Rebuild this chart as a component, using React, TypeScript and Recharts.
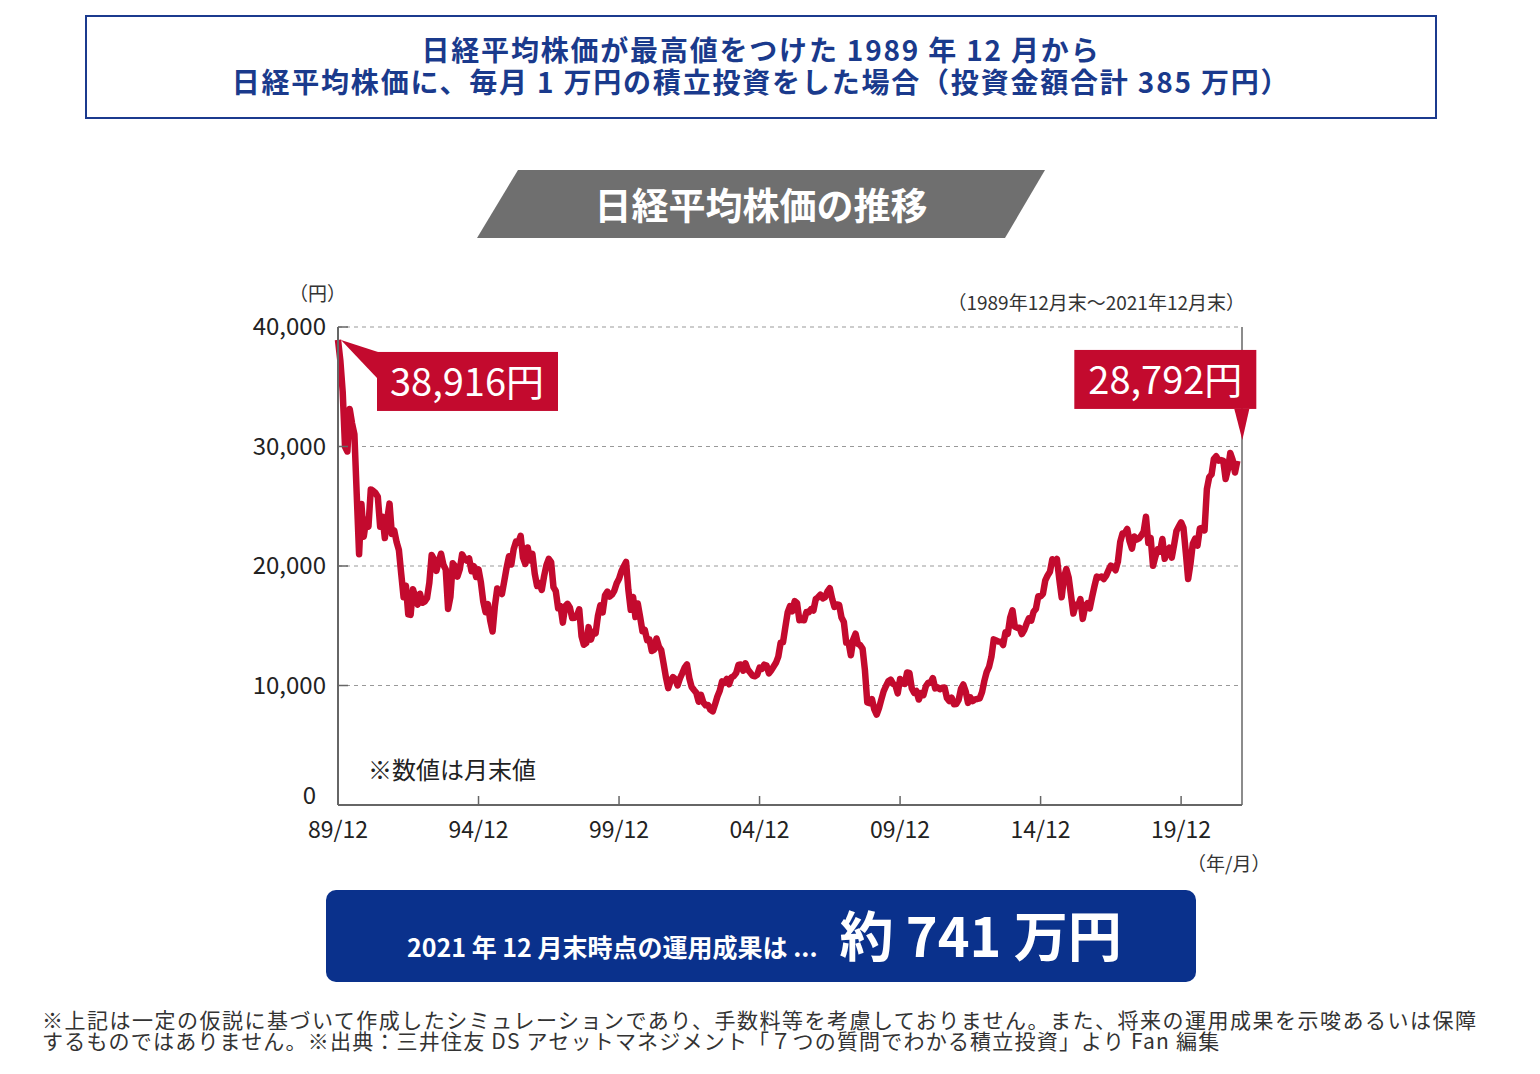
import React from "react";
import {
  LineChart,
  Line,
  XAxis,
  YAxis,
  CartesianGrid,
  ReferenceLine,
  ReferenceDot,
} from "recharts";

// Nikkei 225 month-end closes, 1989/12 .. 2021/12
const nikkei1989to1994 = [
  38916,
  37189, 34592, 29980, 29584, 33131, 31940, 31036, 25978, 20984, 25194, 22455, 23849,
  23293, 26409, 26292, 26111, 25790, 23291, 24121, 22336, 23916, 25222, 22688, 22984,
  22023, 21339, 19346, 17391, 18348, 15952, 15910, 18061, 17399, 16767, 17684, 16925,
  17024, 17302, 18591, 20919, 20552, 19590, 20380, 21027, 20106, 19704, 16408, 17417,
  20229, 19997, 19112, 19725, 20974, 20644, 20449, 20629, 19564, 19990, 19076, 19723,
];
const nikkei1995to1999 = [
  18650, 17053, 16140, 16807, 15437, 14517, 16678, 18117, 17913, 17655, 18744, 19868,
  20813, 20125, 21406, 22041, 21956, 22530, 20692, 20167, 21556, 20466, 21020, 19361,
  18330, 18557, 18003, 19151, 20068, 20604, 20331, 18229, 17888, 16458, 16636, 15259,
  16628, 16831, 16527, 15641, 15671, 15830, 16378, 14108, 13406, 13564, 14883, 13842,
  14499, 14368, 15837, 16702, 16112, 17530, 17862, 17437, 17605, 17942, 18558, 18934,
];
const nikkei2000to2004 = [
  19540, 19960, 20337, 17974, 16332, 17411, 15727, 16861, 15747, 14540, 14649, 13786,
  13843, 12883, 12999, 13934, 13262, 12969, 11861, 10713, 9775, 10366, 10697, 10543,
  9998, 10588, 11025, 11493, 11764, 10622, 9877, 9620, 9383, 8640, 9216, 8579,
  8340, 8364, 7973, 7831, 8425, 9083, 9563, 10344, 10219, 10560, 10101, 10677,
  10784, 11042, 11715, 11762, 11236, 11859, 11326, 11082, 10824, 10771, 10899, 11489,
];
const nikkei2005to2009 = [
  11388, 11741, 11669, 11009, 11277, 11584, 11900, 12414, 13574, 13607, 14872, 16111,
  16650, 16206, 17060, 16907, 15467, 15505, 15457, 16141, 16128, 16399, 16274, 17226,
  17383, 17604, 17288, 17400, 17876, 18138, 17249, 16569, 16786, 16737, 15681, 15308,
  13592, 13603, 12526, 13850, 14339, 13482, 13377, 13073, 11260, 8577, 8512, 8860,
  7994, 7568, 8110, 8828, 9523, 9958, 10357, 10493, 10133, 10035, 9346, 10546,
];
const nikkei2010to2014 = [
  10198, 10126, 11090, 11057, 9768, 9383, 9537, 8824, 9369, 9202, 9937, 10229,
  10238, 10624, 9755, 9850, 9694, 9816, 9833, 8955, 8700, 8988, 8435, 8455,
  8803, 9723, 10084, 9521, 8543, 9007, 8695, 8840, 8870, 8928, 9446, 10395,
  11139, 11559, 12398, 13861, 13775, 13677, 13668, 13389, 14456, 14328, 15662, 16291,
  14915, 14841, 14828, 14304, 14632, 15162, 15621, 15425, 16174, 16414, 17460, 17451,
];
const nikkei2015to2021 = [
  17674, 18798, 19207, 19520, 20563, 20236, 20585, 18890, 17388, 19083, 19747, 19034,
  17518, 16027, 16759, 16666, 17235, 15576, 16569, 16887, 16450, 17425, 18308, 19114,
  19041, 19119, 18909, 19197, 19651, 20033, 19925, 19646, 20356, 22012, 22725, 22765,
  23098, 22068, 21454, 22468, 22202, 22305, 22554, 22865, 24120, 21920, 22351, 20015,
  20773, 21385, 21206, 22259, 20601, 21276, 21522, 20704, 21756, 22927, 23294, 23657,
  23205, 21143, 18917, 20194, 21878, 22288, 21710, 23140, 23185, 22977, 26434, 27444,
  27663, 28966, 29179, 28813, 28860, 28792, 27284, 28090, 29453, 28893, 27822, 28792,
];

const xTickMonths = [0, 60, 120, 180, 240, 300, 360];
const xTickLabels = ["89/12", "94/12", "99/12", "04/12", "09/12", "14/12", "19/12"];
const yTicks = [0, 10000, 20000, 30000, 40000];

const values = [
  ...nikkei1989to1994,
  ...nikkei1995to1999,
  ...nikkei2000to2004,
  ...nikkei2005to2009,
  ...nikkei2010to2014,
  ...nikkei2015to2021,
];
const data = values.map((value, m) => ({ m, value }));
const first = data[0];
const last = data[data.length - 1];

const FONT = "'Noto Sans CJK JP', 'Noto Sans', sans-serif";
const RED = "#c30a2e";
const NAVY = "#0a318c";
const AXIS = "#666";

const XTick = ({ x, y, payload }: any) => {
  const idx = xTickMonths.indexOf(payload.value);
  return (
    <g>
      {idx > 0 && <line x1={x} x2={x} y1={y} y2={y - 9} stroke={AXIS} strokeWidth={1.5} />}
      <text x={x} y={y + 33} textAnchor="middle" fontSize={23} fill="#222" fontFamily={FONT}>
        {xTickLabels[idx]}
      </text>
    </g>
  );
};

const YTick = ({ x, y, payload }: any) => {
  const zero = payload.value === 0;
  return (
    <g>
      {!zero && <line x1={x} x2={x + 10} y1={y} y2={y} stroke={AXIS} strokeWidth={1.5} />}
      <text
        x={zero ? x - 22 : x - 12}
        y={zero ? y - 1 : y + 8}
        textAnchor="end"
        fontSize={24}
        fill="#222"
        fontFamily={FONT}
      >
        {payload.value.toLocaleString("en-US")}
      </text>
    </g>
  );
};

const StartCallout = ({ cx, cy }: any) => (
  <g>
    <polygon points={`${cx + 3},${cy} ${cx + 40},${cy + 12} ${cx + 39},${cy + 38}`} fill={RED} />
    <rect x={cx + 39} y={cy + 12} width={181} height={59} fill={RED} />
    <text x={cx + 129} y={cy + 56} textAnchor="middle" fontSize={38} fill="#fff" fontFamily={FONT}>
      38,916円
    </text>
  </g>
);

const EndCallout = ({ cx, cy }: any) => (
  <g>
    <polygon points={`${cx - 3},${cy - 52} ${cx + 12},${cy - 52} ${cx + 5},${cy - 21}`} fill={RED} />
    <rect x={cx - 163} y={cy - 111} width={182} height={59} fill={RED} />
    <text x={cx - 72} y={cy - 67} textAnchor="middle" fontSize={38} fill="#fff" fontFamily={FONT}>
      28,792円
    </text>
  </g>
);

const abs = (left: number, top: number): React.CSSProperties => ({
  position: "absolute",
  left,
  top,
  fontFamily: FONT,
  whiteSpace: "nowrap",
});

export default function App() {
  return (
    <div style={{ position: "absolute", left: 0, top: 0, width: 1540, height: 1074, background: "#fff", fontFamily: FONT }}>
      <div
        style={{
          ...abs(85, 15),
          width: 1352,
          height: 104,
          boxSizing: "border-box",
          border: "2.5px solid #1b3a8e",
          paddingTop: 16,
          textAlign: "center",
          color: "#1a3a8c",
          fontWeight: 700,
          fontSize: 28,
          letterSpacing: 1.8,
          lineHeight: "32px",
        }}
      >
        <div>日経平均株価が最高値をつけた 1989 年 12 月から</div>
        <div>日経平均株価に、毎月 1 万円の積立投資をした場合（投資金額合計 385 万円）</div>
      </div>

      <div
        style={{
          ...abs(477, 170),
          width: 568,
          height: 68,
          background: "#6f6f6f",
          clipPath: "polygon(41px 0, 568px 0, 528px 68px, 0 68px)",
          color: "#fff",
          fontWeight: 700,
          fontSize: 37,
          lineHeight: "68px",
          textAlign: "center",
        }}
      >
        日経平均株価の推移
      </div>

      <div style={{ ...abs(289, 279), fontSize: 19, color: "#333" }}>（円）</div>
      <div style={{ ...abs(945, 288), fontSize: 19, color: "#333", width: 300, textAlign: "right" }}>
        （1989年12月末～2021年12月末）
      </div>

      <div style={{ position: "absolute", left: 230, top: 270 }}>
        <LineChart width={1060} height={620} data={data} margin={{ top: 57, right: 48, left: 28, bottom: 35 }}>
          <CartesianGrid vertical={false} stroke="#999" strokeDasharray="4 4" />
          <XAxis
            dataKey="m"
            type="number"
            domain={[0, 386]}
            ticks={xTickMonths}
            tick={<XTick />}
            tickSize={0}
            tickMargin={0}
            tickLine={false}
            height={50}
            axisLine={{ stroke: AXIS, strokeWidth: 2 }}
          />
          <YAxis
            type="number"
            domain={[0, 40000]}
            ticks={yTicks}
            tick={<YTick />}
            tickSize={0}
            tickMargin={0}
            tickLine={false}
            width={80}
            axisLine={{ stroke: AXIS, strokeWidth: 2 }}
          />
          <ReferenceLine x={386} stroke={AXIS} strokeWidth={1.5} />
          <Line
            type="linear"
            dataKey="value"
            stroke={RED}
            strokeWidth={6.5}
            strokeLinejoin="round"
            dot={false}
            isAnimationActive={false}
          />
          <ReferenceDot x={first.m} y={first.value} r={0} shape={<StartCallout />} />
          <ReferenceDot x={last.m} y={last.value} r={0} shape={<EndCallout />} />
        </LineChart>
      </div>

      <div style={{ ...abs(368, 751), fontSize: 24, color: "#222" }}>※数値は月末値</div>
      <div style={{ ...abs(1187, 849), fontSize: 19, color: "#333" }}>（年/月）</div>

      <div
        style={{
          ...abs(326, 890),
          width: 870,
          height: 92,
          background: NAVY,
          borderRadius: 10,
          color: "#fff",
          fontWeight: 700,
          display: "flex",
          alignItems: "baseline",
          paddingLeft: 81,
          boxSizing: "border-box",
          paddingTop: 4,
        }}
      >
        <span style={{ fontSize: 25 }}>2021 年 12 月末時点の運用成果は ...</span>
        <span style={{ fontSize: 54, marginLeft: 22 }}>約 741 万円</span>
      </div>

      <div style={{ ...abs(42, 1009), fontSize: 21, lineHeight: "21px", color: "#333", letterSpacing: 1.5 }}>
        <div>※上記は一定の仮説に基づいて作成したシミュレーションであり、手数料等を考慮しておりません。また、将来の運用成果を示唆あるいは保障</div>
        <div style={{ letterSpacing: 1.2 }}>するものではありません。※出典：三井住友 DS アセットマネジメント「７つの質問でわかる積立投資」より Fan 編集</div>
      </div>
    </div>
  );
}
